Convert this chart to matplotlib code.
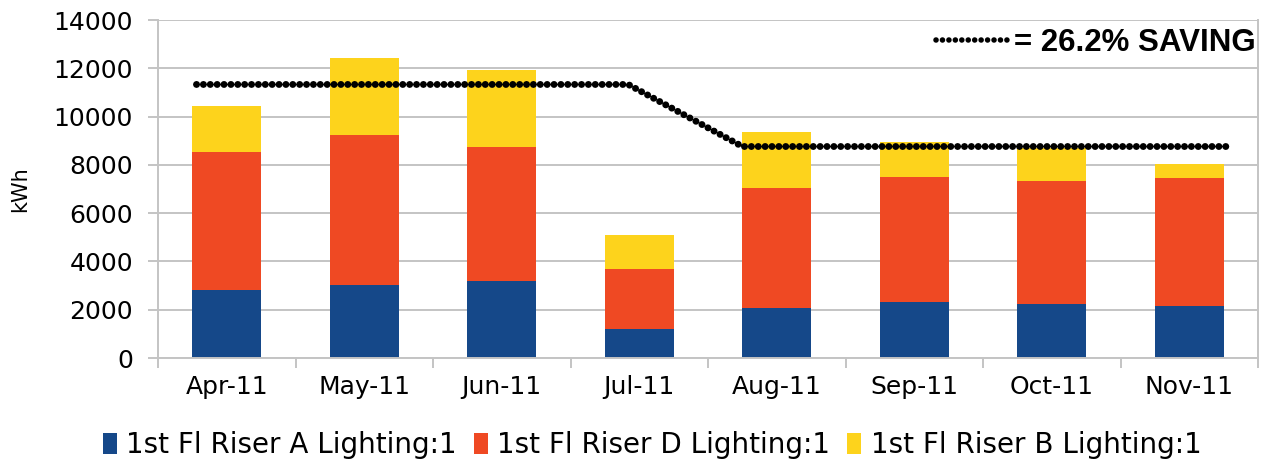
import matplotlib
matplotlib.use("Agg")
import matplotlib.pyplot as plt
from matplotlib.lines import Line2D
import numpy as np

months = ["Apr-11", "May-11", "Jun-11", "Jul-11", "Aug-11", "Sep-11", "Oct-11", "Nov-11"]
riser_a = [2820, 3020, 3190, 1200, 2070, 2320, 2220, 2150]
riser_d = [5710, 6220, 5550, 2490, 4970, 5180, 5110, 5310]
riser_b = [1910, 3190, 3190, 1410, 2320, 1450, 1370, 580]
series_names = ["1st Fl Riser A Lighting:1", "1st Fl Riser D Lighting:1", "1st Fl Riser B Lighting:1"]
colors = ["#154889", "#EF4923", "#FDD31C"]

# saving target line (x in category units, y in kWh)
target_x = [-0.22, 2.92, 3.75, 7.31]
target_y = [11330, 11330, 8760, 8760]
saving_label = "= 26.2% SAVING"

yticks = [0, 2000, 4000, 6000, 8000, 10000, 12000, 14000]

W, H = 1265, 461
fig = plt.figure(figsize=(W / 100, H / 100), dpi=100)
ax = fig.add_axes([158 / W, 1 - 358 / H, 1100 / W, 338 / H])

x = np.arange(len(months))
a = np.array(riser_a)
d = np.array(riser_d)
b = np.array(riser_b)
bars = []
bars.append(ax.bar(x, a, width=0.5, color=colors[0], zorder=2))
bars.append(ax.bar(x, d, width=0.5, bottom=a, color=colors[1], zorder=2))
bars.append(ax.bar(x, b, width=0.5, bottom=a + d, color=colors[2], zorder=2))

ax.plot(target_x, target_y, color="black", lw=5.0, linestyle=(0, (0.01, 0.98)),
        dash_capstyle="round", zorder=3)

ax.set_xlim(-0.5, len(months) - 0.5)
ax.set_ylim(0, 14000)
ax.set_yticks(yticks)
ax.set_yticklabels([str(v) for v in yticks])
ax.set_xticks(x)
ax.set_xticklabels(months)
ax.set_xticks(np.arange(-0.5, len(months)), minor=True)

grey = "#c4c4c4"
ax.yaxis.grid(True, color=grey, lw=1.4, zorder=0)
ax.set_axisbelow(True)
for s in ["left", "right", "bottom"]:
    ax.spines[s].set_color(grey)
    ax.spines[s].set_linewidth(1.4)
ax.spines["top"].set_visible(False)

ax.tick_params(axis="x", which="major", length=0, pad=12, labelsize=18, colors="black")
ax.tick_params(axis="x", which="minor", length=7, width=1.4, color=grey, direction="out")
ax.tick_params(axis="y", which="major", length=7, width=1.4, color=grey, pad=11,
               labelsize=18, labelcolor="black")
ax.set_ylabel("kWh", fontsize=15)
ax.yaxis.set_label_coords(-(158 - 20) / 1100, 0.5)
ax.yaxis.label.set_verticalalignment("center")

# saving legend (top right)
h = Line2D([], [], color="black", lw=4.0, linestyle=(0, (0.01, 1.15)), dash_capstyle="round")
leg2 = ax.legend([h], [saving_label], loc="center right", bbox_to_anchor=(0.998, 0.932),
                 frameon=False, borderaxespad=0, borderpad=0, handlelength=2.3,
                 handletextpad=0.2, prop={"family": "Liberation Sans", "weight": "bold", "size": 22.5})

fig.legend([bb[0] for bb in bars], series_names, loc="center", bbox_to_anchor=(652 / W, 1 - 445 / H),
           ncol=3, frameon=False, handlelength=0.5, handleheight=0.8, handletextpad=0.35,
           columnspacing=0.6, fontsize=20, borderpad=0)

fig.savefig("out.png", dpi=100)
